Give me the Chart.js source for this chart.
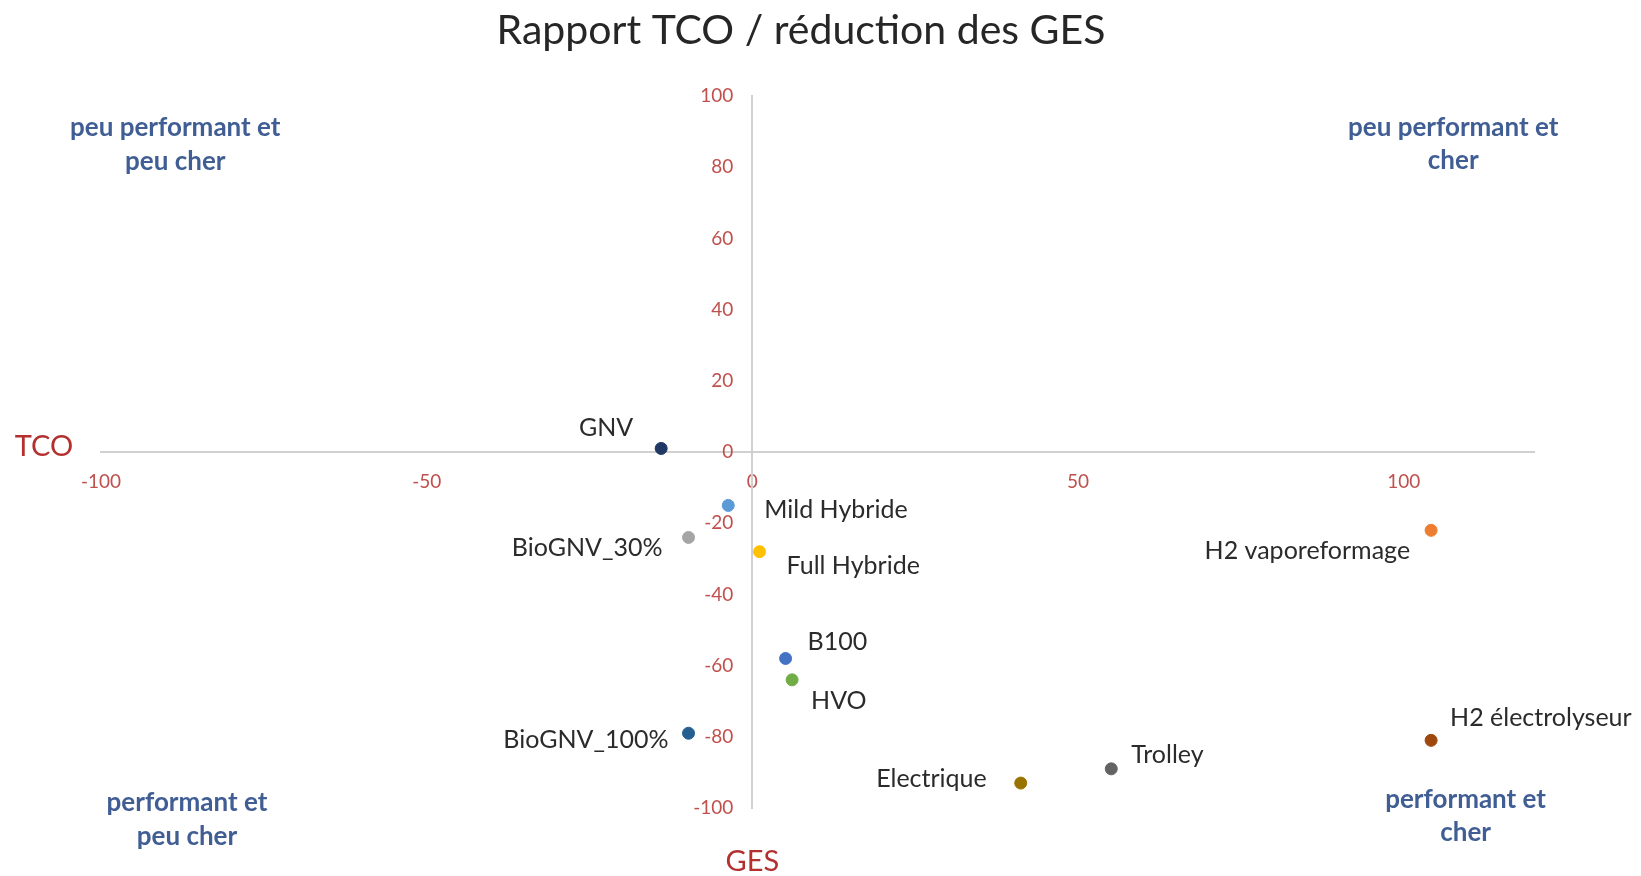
<!DOCTYPE html>
<html>
<head>
<meta charset="utf-8">
<script src="https://cdn.jsdelivr.net/npm/chart.js@4/dist/chart.umd.min.js"></script>
<style>
	html, body { margin: 0; padding: 0; background: #fff; }
	#wrap { width: 1641px; height: 876px; }
</style>
</head>
<body>
<div id="wrap"><canvas id="chart" width="1641" height="876"></canvas></div>
<script>
// data
const names = ['GNV', 'Mild Hybride', 'BioGNV_30%', 'Full Hybride', 'B100', 'HVO', 'BioGNV_100%', 'Electrique', 'Trolley', 'H2 vaporeformage', 'H2 électrolyseur'];
const gesValues = [-14, -3.7, -9.8, 1.1, 5.1, 6.1, -9.8, 41.2, 55.1, 104.2, 104.2];
const tcoValues = [1, -15, -24, -28, -58, -64, -79, -93, -89, -22, -81];
const pointColors = ['#203864', '#5b9bd5', '#a5a5a5', '#ffc000', '#4472c4', '#70ad47', '#255e91', '#997300', '#636363', '#ed7d31', '#9e480e'];

const xTicksShown = [-100, -50, 0, 50, 100];

const chartTitle = 'Rapport TCO / réduction des GES';
const quadrants = [
	{ lines: ['peu performant et', 'peu cher'], x: -88.6, y: 91 },
	{ lines: ['peu performant et', 'cher'], x: 107.6, y: 91.2 },
	{ lines: ['performant et', 'peu cher'], x: -86.8, y: -98.5 },
	{ lines: ['performant et', 'cher'], x: 109.5, y: -97.6 }
];

// where each point label sits relative to its point: [dx, dy, align]
const labelPlace = [
	[-28, -21, 'right'], [36, 5, 'left'], [-26, 10, 'right'], [27, 14, 'left'],
	[22, -17, 'left'], [19, 21, 'left'], [-20, 7, 'right'], [-34, -4, 'right'],
	[20, -14, 'left'], [-21, 21, 'right'], [19, -22, 'left']
];

const FONT = 'Lato, "Open Sans", sans-serif';
const tickRed = '#c0504d';
const axisRed = '#b3302f';

const pointLabels = {
	id: 'pointLabels',
	afterDatasetsDraw(chart) {
		const ctx = chart.ctx;
		const meta = chart.getDatasetMeta(0);
		ctx.save();
		ctx.font = '25px ' + FONT;
		ctx.fillStyle = '#2b2b2b';
		ctx.textBaseline = 'middle';
		meta.data.forEach((pt, i) => {
			const [dx, dy, align] = labelPlace[i];
			ctx.textAlign = align;
			ctx.fillText(names[i], pt.x + dx, pt.y + dy);
		});
		ctx.restore();
	}
};

const annotations = {
	id: 'annotations',
	afterDraw(chart) {
		const { ctx, scales: { x, y } } = chart;
		ctx.save();
		ctx.textAlign = 'center';
		ctx.textBaseline = 'middle';

		ctx.fillStyle = '#262626';
		ctx.font = '41px ' + FONT;
		ctx.fillText(chartTitle, 801, 31);

		ctx.fillStyle = '#405e94';
		ctx.font = 'bold 26px ' + FONT;
		for (const q of quadrants) {
			q.lines.forEach((line, i) => {
				ctx.fillText(line, x.getPixelForValue(q.x), y.getPixelForValue(q.y) + i * 33.5);
			});
		}

		ctx.fillStyle = axisRed;
		ctx.font = '29px ' + FONT;
		ctx.fillText('TCO', 44, y.getPixelForValue(1.5));
		ctx.fillText('GES', x.getPixelForValue(0), 862);
		ctx.restore();
	}
};

new Chart(document.getElementById('chart'), {
	type: 'scatter',
	data: {
		datasets: [{
			label: 'TCO / GES',
			data: gesValues.map((g, i) => ({ x: g, y: tcoValues[i] })),
			pointBackgroundColor: pointColors,
			pointBorderColor: pointColors,
			pointRadius: 6,
			pointHoverRadius: 6
		}]
	},
	options: {
		responsive: false,
		animation: false,
		layout: { padding: { left: 101, right: 107, top: 96, bottom: 68 } },
		plugins: {
			legend: { display: false },
			title: { display: false },
			tooltip: { enabled: false }
		},
		scales: {
			x: {
				type: 'linear',
				min: -100,
				max: 120,
				position: { y: 0 },
				ticks: {
					stepSize: 50,
					padding: 18,
					color: tickRed,
					font: { family: FONT, size: 19 },
					maxRotation: 0,
					callback: v => xTicksShown.includes(v) ? v : null
				},
				grid: { drawOnChartArea: false, drawTicks: false },
				border: { display: true, color: '#d0d0d0', width: 2 }
			},
			y: {
				type: 'linear',
				min: -100,
				max: 100,
				position: { x: 0 },
				ticks: {
					stepSize: 20,
					color: tickRed,
					font: { family: FONT, size: 19 },
					// centred axes ignore tick padding on y, so keep a gap with spaces
					callback: v => v + '\u2003\u2005'
				},
				grid: { drawOnChartArea: false, drawTicks: false },
				border: { display: true, color: '#d0d0d0', width: 2 }
			}
		}
	},
	plugins: [pointLabels, annotations]
});
</script>
</body>
</html>
